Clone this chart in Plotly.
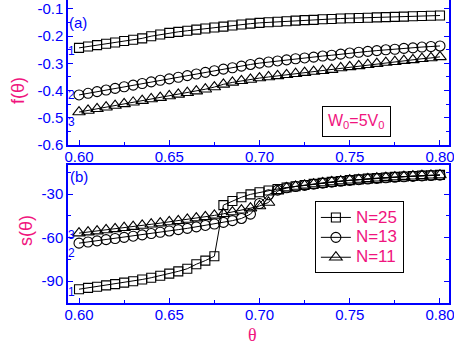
import plotly.graph_objects as go

theta = [round(0.600 + 0.005 * i, 3) for i in range(41)]

f_N25 = [-0.243, -0.238, -0.233, -0.228, -0.223, -0.218, -0.213, -0.208, -0.200, -0.194,
         -0.188, -0.184, -0.180, -0.176, -0.172, -0.168, -0.165, -0.161, -0.157, -0.154,
         -0.151, -0.149, -0.147, -0.145, -0.143, -0.141, -0.140, -0.138, -0.137, -0.135,
         -0.134, -0.133, -0.132, -0.131, -0.130, -0.129, -0.128, -0.127, -0.126, -0.125, -0.124]
f_N13 = [-0.416, -0.410, -0.404, -0.398, -0.392, -0.386, -0.380, -0.374, -0.368, -0.362,
         -0.357, -0.351, -0.345, -0.339, -0.333, -0.327, -0.321, -0.316, -0.310, -0.304,
         -0.299, -0.295, -0.291, -0.287, -0.283, -0.280, -0.277, -0.273, -0.270, -0.266,
         -0.262, -0.259, -0.256, -0.253, -0.250, -0.248, -0.245, -0.243, -0.240, -0.238, -0.236]
f_N11 = [-0.479, -0.473, -0.467, -0.461, -0.455, -0.449, -0.443, -0.437, -0.431, -0.426,
         -0.420, -0.414, -0.408, -0.402, -0.395, -0.387, -0.377, -0.370, -0.364, -0.359,
         -0.354, -0.350, -0.346, -0.342, -0.338, -0.334, -0.330, -0.327, -0.323, -0.317,
         -0.313, -0.309, -0.305, -0.301, -0.297, -0.294, -0.290, -0.287, -0.283, -0.280, -0.276]

s_N25 = [-95.5, -94.6, -93.8, -92.9, -92.0, -91.0, -90.0, -88.8, -87.6, -86.2,
         -84.8, -83.2, -81.4, -78.3, -75.8, -72.8, -37.6, -34.8, -32.2, -30.2,
         -28.8, -27.6, -26.5, -25.5, -24.6, -23.8, -23.0, -22.3, -21.6, -21.0,
         -20.4, -19.9, -19.4, -19.0, -18.6, -18.2, -17.9, -17.6, -17.3, -17.0, -16.8]
s_N13 = [-63.8, -63.0, -62.2, -61.4, -60.6, -59.8, -59.0, -58.1, -57.2, -56.3,
         -55.4, -54.5, -53.6, -52.6, -51.6, -50.6, -49.5, -48.3, -46.8, -43.8,
         -36.5, -30.5, -27.3, -25.7, -24.8, -24.0, -23.2, -22.5, -21.8, -21.2,
         -20.6, -20.1, -19.6, -19.2, -18.8, -18.4, -18.1, -17.8, -17.5, -17.2, -17.0]
s_N11 = [-56.9, -56.2, -55.5, -54.7, -54.0, -53.2, -52.4, -51.6, -50.8, -50.0,
         -49.2, -48.4, -47.5, -46.6, -45.7, -44.7, -43.6, -42.4, -41.1, -39.7,
         -38.2, -35.8, -28.0, -25.8, -24.8, -24.0, -23.1, -22.4, -21.7, -21.1,
         -20.5, -20.0, -19.5, -19.1, -18.7, -18.3, -18.0, -17.7, -17.4, -17.1, -16.9]

series_names = ["N=25", "N=13", "N=11"]
symbols = ["square-open", "circle-open", "triangle-up-open"]
msizes = [9, 10, 11]

xticks = [0.60, 0.65, 0.70, 0.75, 0.80]
xticktext = ["0.60", "0.65", "0.70", "0.75", "0.80"]
fticks = [-0.6, -0.5, -0.4, -0.3, -0.2, -0.1]
fticktext = ["-0.6", "-0.5", "-0.4", "-0.3", "-0.2", "-0.1"]
sticks = [-90, -60, -30]
sticktext = ["-90", "-60", "-30"]

BLUE = "#0000FF"
PINK = "#F0147E"
FONT = "Liberation Sans, Arial, sans-serif"

fig = go.Figure()
for ys, name, sym, ms in zip([f_N25, f_N13, f_N11], series_names, symbols, msizes):
    fig.add_trace(go.Scatter(x=theta, y=ys, mode="lines+markers", name=name, showlegend=False,
                             line=dict(color="black", width=1),
                             marker=dict(symbol=sym, size=ms, color="black", line=dict(width=1.1, color="black")),
                             xaxis="x", yaxis="y"))
for ys, name, sym, ms in zip([s_N25, s_N13, s_N11], series_names, symbols, msizes):
    fig.add_trace(go.Scatter(x=theta, y=ys, mode="lines+markers",
                             name='<span style="font-size:17px">' + name + '</span>', showlegend=True,
                             line=dict(color="black", width=1),
                             marker=dict(symbol=sym, size=ms, color="black", line=dict(width=1.1, color="black")),
                             xaxis="x2", yaxis="y2"))

axis_common = dict(showline=True, linecolor=BLUE, linewidth=1.5, ticks="inside", ticklen=5,
                   tickcolor=BLUE, tickwidth=1, showgrid=False, zeroline=False,
                   ticklabeloverflow="allow",
                   tickfont=dict(family=FONT, size=15, color=BLUE))

xr = [0.5939, 0.805]
fig.update_layout(
    width=454, height=345,
    margin=dict(l=68, r=5, t=0, b=42),
    plot_bgcolor="white", paper_bgcolor="white",
    font=dict(family=FONT),
    xaxis=dict(axis_common, range=xr, domain=[0, 1], anchor="y", tickvals=xticks, ticktext=xticktext,
               ticklabelstandoff=-3,
               minor=dict(ticks="inside", ticklen=3, tickcolor=BLUE, dtick=0.025, tick0=0.6)),
    yaxis=dict(axis_common, range=[-0.6, -0.067], domain=[0.5215, 1], anchor="x", mirror="ticks",
               tickvals=fticks, ticktext=fticktext,
               minor=dict(ticks="inside", ticklen=3, tickcolor=BLUE, dtick=0.05, tick0=-0.6)),
    xaxis2=dict(axis_common, range=xr, domain=[0, 1], anchor="y2", mirror=True, tickvals=xticks, ticktext=xticktext,
                ticklabelstandoff=-3,
                minor=dict(ticks="inside", ticklen=3, tickcolor=BLUE, dtick=0.025, tick0=0.6)),
    yaxis2=dict(axis_common, range=[-105, -10], domain=[0, 0.4554], anchor="x2", mirror="ticks",
                tickvals=sticks, ticktext=sticktext,
                minor=dict(ticks="inside", ticklen=3, tickcolor=BLUE, dtick=15, tick0=-105)),
    legend=dict(x=0.648, y=0.335, xanchor="left", yanchor="top", bgcolor="white",
                bordercolor="black", borderwidth=1, font=dict(family=FONT, size=13, color=PINK),
                tracegroupgap=0, itemsizing="trace"),
)

ann = []
# panel labels
ann.append(dict(x=0.5994, y=-0.148, xref="x", yref="y", text="(a)", showarrow=False,
                xanchor="center", yanchor="middle",
                font=dict(family=FONT, size=15, color=BLUE)))
ann.append(dict(x=0.5999, y=-18.0, xref="x2", yref="y2", text="(b)", showarrow=False,
                xanchor="center", yanchor="middle",
                font=dict(family=FONT, size=15, color=BLUE)))
# curve numbers
for txt, yv in [("1", -0.254), ("2", -0.416), ("3", -0.515)]:
    ann.append(dict(x=0.5958, y=yv, xref="x", yref="y", text=txt, showarrow=False,
                    xanchor="center", yanchor="middle",
                    font=dict(family=FONT, size=12, color=BLUE)))
for txt, yv in [("3", -58.2), ("2", -70.6), ("1", -97.4)]:
    ann.append(dict(x=0.5958, y=yv, xref="x2", yref="y2", text=txt, showarrow=False,
                    xanchor="center", yanchor="middle",
                    font=dict(family=FONT, size=12, color=BLUE)))
# W0 box
ann.append(dict(x=0.7538, y=-0.513, xref="x", yref="y", text="W<sub>0</sub>=5V<sub>0</sub>",
                showarrow=False, bordercolor="black", borderwidth=1, borderpad=5, bgcolor="white",
                xanchor="center", yanchor="middle",
                font=dict(family=FONT, size=16, color=PINK)))
# axis titles
ann.append(dict(x=-0.131, y=0.70, xref="paper", yref="paper", text="f(θ)", textangle=-90,
                xanchor="center", yanchor="middle",
                showarrow=False, font=dict(family=FONT, size=18, color=PINK)))
ann.append(dict(x=-0.110, y=0.238, xref="paper", yref="paper", text="s(θ)", textangle=-90,
                xanchor="center", yanchor="middle",
                showarrow=False, font=dict(family=FONT, size=18, color=PINK)))
ann.append(dict(x=0.483, y=-0.104, xref="paper", yref="paper", text="θ",
                xanchor="center", yanchor="middle",
                showarrow=False, font=dict(family="Liberation Serif, serif", size=18, color=PINK)))
fig.update_layout(annotations=ann)

fig.write_html("out.html")
